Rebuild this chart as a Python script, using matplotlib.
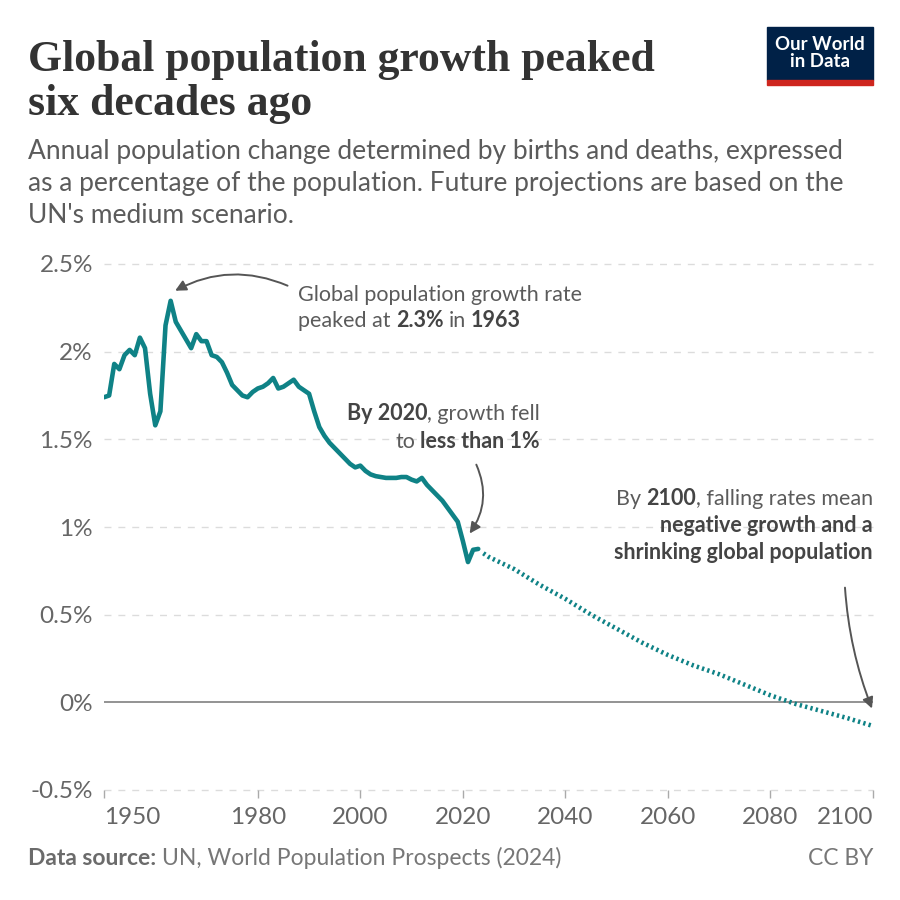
import matplotlib.pyplot as plt
from matplotlib.patches import Rectangle

plt.rcParams['font.family'] = ['Lato', 'DejaVu Sans']

# historical rate of natural increase (%), UN WPP 2024
years = list(range(1950, 2024))
rates = [1.74, 1.75, 1.93, 1.90, 1.98, 2.01, 1.98, 2.08, 2.02, 1.76,
         1.58, 1.66, 2.15, 2.29, 2.17, 2.12, 2.07, 2.02, 2.10, 2.06,
         2.06, 1.98, 1.97, 1.94, 1.88, 1.81, 1.78, 1.75, 1.74, 1.77,
         1.79, 1.80, 1.82, 1.85, 1.79, 1.80, 1.82, 1.84, 1.80, 1.78,
         1.76, 1.66, 1.57, 1.52, 1.48, 1.45, 1.42, 1.39, 1.36, 1.34,
         1.35, 1.32, 1.30, 1.29, 1.285, 1.28, 1.28, 1.28, 1.285, 1.285,
         1.27, 1.26, 1.28, 1.24, 1.21, 1.18, 1.15, 1.11, 1.07, 1.03,
         0.92, 0.80, 0.87, 0.875]

# medium scenario projection
proj_years = [2024, 2025, 2030, 2035, 2040, 2045, 2050, 2055, 2060,
              2065, 2070, 2075, 2080, 2085, 2090, 2095, 2100]
proj_rates = [0.85, 0.83, 0.76, 0.67, 0.59, 0.50, 0.42, 0.34, 0.27,
              0.21, 0.16, 0.10, 0.04, -0.01, -0.05, -0.09, -0.135]

yticks = [-0.5, 0, 0.5, 1, 1.5, 2, 2.5]
ytick_labels = ['-0.5%', '0%', '0.5%', '1%', '1.5%', '2%', '2.5%']
xticks = [1950, 1980, 2000, 2020, 2040, 2060, 2080, 2100]

TEAL = '#0f8286'
GREY = '#5b5b5b'
DARK = '#444444'
ANN = 15.5

fig = plt.figure(figsize=(9, 9), dpi=100)
fig.patch.set_facecolor('white')


def fx(px):
    return px / 900


def fy(py):
    return 1 - py / 900


ax = fig.add_axes([fx(104), fy(790), fx(873) - fx(104), fy(264) - fy(790)])
ax.set_xlim(1950, 2100)
ax.set_ylim(-0.5, 2.5)
for s in ax.spines.values():
    s.set_visible(False)

for v in yticks:
    if v == 0:
        ax.axhline(0, color='#8a8a8a', lw=1.3, zorder=1)
    else:
        ax.axhline(v, color='#dcdcdc', lw=1.0, ls=(0, (5, 5)), zorder=0,
                   clip_on=False)

ax.plot(years, rates, color=TEAL, lw=3.3, solid_joinstyle='round',
        solid_capstyle='round', zorder=3)
ax.plot(proj_years, proj_rates, color=TEAL, lw=3.3, ls=(0, (0.5, 0.7)),
        zorder=3)

ax.set_yticks(yticks)
ax.set_yticklabels(ytick_labels)
ax.set_xticks(xticks)
ax.set_xticklabels([str(x) for x in xticks])
ax.tick_params(axis='y', length=0, pad=8, labelsize=17.5, labelcolor='#666666')
ax.tick_params(axis='x', length=6, width=1, color='#aaaaaa', pad=6,
               labelsize=17.5, labelcolor='#666666')
xl = ax.get_xticklabels()
xl[0].set_ha('left')
xl[-1].set_ha('right')


def rich(x, y, parts, ha='left', size=ANN, color=GREY, dark=DARK):
    # one line of mixed regular/bold text, pieces chained together
    sp = size * 0.24
    seq = parts if ha == 'left' else parts[::-1]
    prev = None
    prev_txt = ''
    for text, bold in seq:
        s = text.strip()
        kw = dict(fontsize=size, fontweight='bold' if bold else 'normal',
                  color=dark if bold else color)
        if prev is None:
            t = fig.text(x, y, s, ha=ha, va='baseline', **kw)
        elif ha == 'left':
            gap = sp if (text.startswith(' ') or prev_txt.endswith(' ')) else 0
            t = ax.annotate(s, xy=(1, 0), xycoords=prev, xytext=(gap, 0),
                            textcoords='offset points', ha='left',
                            va='bottom', annotation_clip=False, **kw)
        else:
            gap = sp if (text.endswith(' ') or prev_txt.startswith(' ')) else 0
            t = ax.annotate(s, xy=(0, 0), xycoords=prev, xytext=(-gap, 0),
                            textcoords='offset points', ha='right',
                            va='bottom', annotation_clip=False, **kw)
        prev = t
        prev_txt = text


# title and subtitle (va=baseline sits on the last line)
fig.text(fx(28), fy(115), 'Global population growth peaked\nsix decades ago',
         family='Liberation Serif', fontweight='bold', fontsize=31.5,
         color='#333333', va='baseline', linespacing=1.13)
fig.text(fx(28), fy(223),
         "Annual population change determined by births and deaths, expressed\n"
         "as a percentage of the population. Future projections are based on the\n"
         "UN's medium scenario.",
         fontsize=19, color=GREY, va='baseline', linespacing=1.35)

# logo
fig.patches.append(Rectangle((fx(767), fy(80)), fx(106), fy(27) - fy(80),
                             transform=fig.transFigure, color='#002147'))
fig.patches.append(Rectangle((fx(767), fy(85)), fx(106), fy(80) - fy(85),
                             transform=fig.transFigure, color='#ce261e'))
fig.text(fx(820), fy(53), 'Our World\nin Data', ha='center', va='center',
         color='white', fontsize=13.4, fontweight='bold', linespacing=1.0)

# annotations
rich(fx(298), fy(301), [('Global population growth rate', False)])
rich(fx(298), fy(327), [('peaked at ', False), ('2.3%', True),
                        (' in ', False), ('1963', True)])
ax.annotate('', xy=(1963.4, 2.34), xytext=(1986.3, 2.37),
            arrowprops=dict(arrowstyle='-|>', color='#555555', lw=1.4,
                            connectionstyle='arc3,rad=0.25',
                            mutation_scale=16))

rich(fx(540), fy(420), [('By 2020', True), (', growth fell', False)],
     ha='right')
rich(fx(540), fy(448), [('to ', False), ('less than 1%', True)], ha='right')
ax.annotate('', xy=(2021.0, 0.95), xytext=(2022.4, 1.37),
            arrowprops=dict(arrowstyle='-|>', color='#555555', lw=1.4,
                            connectionstyle='arc3,rad=-0.3',
                            mutation_scale=16))

rich(fx(873), fy(505), [('By ', False), ('2100', True),
                        (', falling rates mean', False)], ha='right')
rich(fx(873), fy(532), [('negative growth and a', True)], ha='right')
rich(fx(873), fy(559), [('shrinking global population', True)], ha='right')
ax.annotate('', xy=(2100, -0.05), xytext=(2094.5, 0.67),
            arrowprops=dict(arrowstyle='-|>', color='#555555', lw=1.4,
                            connectionstyle='arc3,rad=0.08',
                            mutation_scale=16))

# footer
rich(fx(28), fy(865), [('Data source:', True),
                       (' UN, World Population Prospects (2024)', False)],
     size=16.5, color='#777777', dark='#6b6b6b')
fig.text(fx(873), fy(865), 'CC BY', ha='right', va='baseline',
         fontsize=16.5, color='#777777')

fig.savefig('out.png', dpi=100, facecolor='white')
